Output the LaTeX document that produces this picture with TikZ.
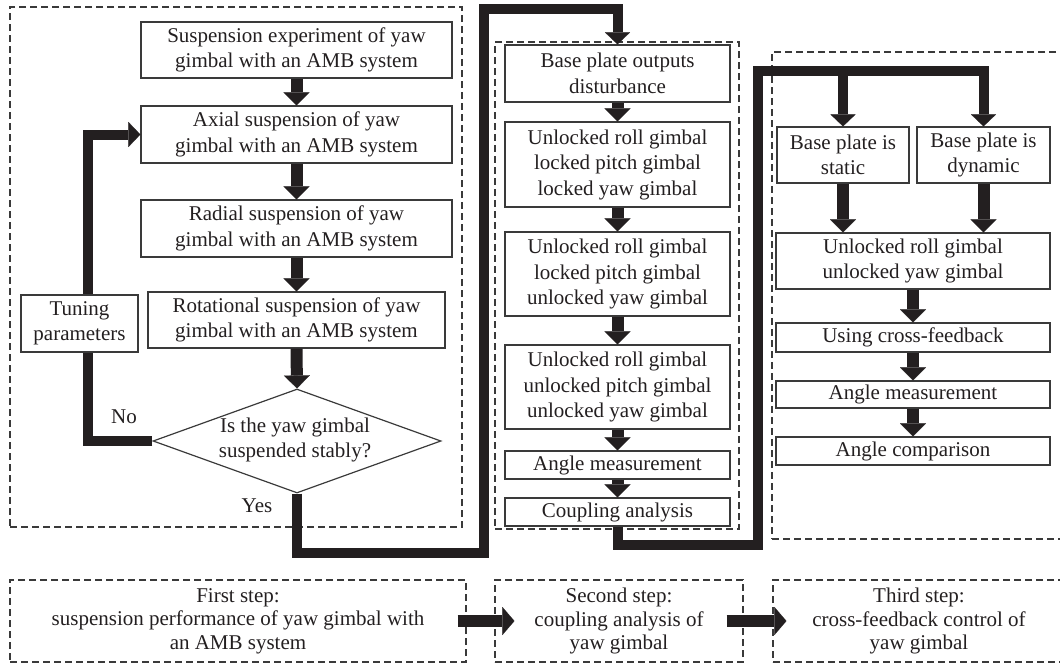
\documentclass[tikz,border=0pt]{standalone}
\usepackage{fontspec}
\setmainfont{Liberation Serif}
\usetikzlibrary{arrows.meta,shapes.geometric}
\definecolor{ink}{HTML}{231F20}
\definecolor{boxc}{HTML}{3A3A3A}
\newcommand\mfs{\fontsize{21}{25.5}\selectfont}
\newcommand\bfs{\fontsize{21}{23.5}\selectfont}
\tikzset{
  box/.style={draw=boxc, line width=1.2pt, inner sep=0pt, align=center, font=\mfs, text=ink},
  panel/.style={draw=boxc, line width=1.2pt, dash pattern=on 7pt off 4pt, inner sep=0pt},
  stepbox/.style={panel, align=center, font=\bfs, text=ink},
  thick line/.style={line width=10pt, draw=ink, line join=miter},
  flow/.style={thick line, -{Triangle[width=25pt,length=12pt,line width=0.1pt]}},
  short/.style={line width=12pt, draw=ink, -{Triangle[width=26pt,length=13pt,line width=0.1pt]}},
  lbl/.style={font=\mfs, text=ink, inner sep=0pt},
}
\begin{document}
\begin{tikzpicture}[x=1pt,y=-1pt]
\useasboundingbox (0,0) rectangle (1060,667);
% panels
\node[panel, minimum width=452pt, minimum height=520pt] (P1) at (236,267) {};
\node[panel, minimum width=244pt, minimum height=487pt] (P2) at (617,285.5) {};
\node[panel, minimum width=300pt, minimum height=487pt] (P3) at (922,295.5) {};
% left column
\node[box, minimum width=311pt, minimum height=56pt] (L1) at (296.5,50) {Suspension experiment of yaw\\gimbal with an AMB system};
\node[box, minimum width=311pt, minimum height=57pt] (L2) at (296.5,134.5) {Axial suspension of yaw\\gimbal with an AMB system};
\node[box, minimum width=311pt, minimum height=57pt] (L3) at (296.5,228.5) {Radial suspension of yaw\\gimbal with an AMB system};
\node[box, minimum width=297pt, minimum height=56pt] (L4) at (296.5,320) {Rotational suspension of yaw\\gimbal with an AMB system};
\node[draw=boxc, line width=1.2pt, diamond, aspect=2.77, minimum width=288pt, minimum height=104pt, inner sep=0pt] (D) at (297,441) {};
\node[lbl, align=center] (Dt) at (295,440) {Is the yaw gimbal\\suspended stably?};
\node[box, minimum width=117pt, minimum height=57pt] (T) at (79.5,323.5) {Tuning\\parameters};
\node[lbl] (no) at (124,417) {No};
\node[lbl] (yes) at (257,506) {Yes};
\draw[short] (L1.south) -- (L2.north);
\draw[short] (L2.south) -- (L3.north);
\draw[short] (L3.south) -- (L4.north);
\draw[short] (L4.south) -- (D.north);
\coordinate (fb) at (88,441);
\draw[thick line] (D.west) -- (fb) -- (fb |- T.south);
\draw[flow] (fb |- T.north) |- (L2.west);
% middle column
\node[box, minimum width=225pt, minimum height=57pt] (M1) at (617.5,73.5) {Base plate outputs\\disturbance};
\node[box, minimum width=225pt, minimum height=85pt] (M2) at (617.5,164.5) {Unlocked roll gimbal\\locked pitch gimbal\\locked yaw gimbal};
\node[box, minimum width=225pt, minimum height=84pt] (M3) at (617.5,274) {Unlocked roll gimbal\\locked pitch gimbal\\unlocked yaw gimbal};
\node[box, minimum width=225pt, minimum height=84pt] (M4) at (617.5,387) {Unlocked roll gimbal\\unlocked pitch gimbal\\unlocked yaw gimbal};
\node[box, minimum width=225pt, minimum height=28pt] (M5) at (617.5,465) {Angle measurement};
\node[box, minimum width=225pt, minimum height=28pt] (M6) at (617.5,512) {Coupling analysis};
\draw[short] (M1.south) -- (M2.north);
\draw[short] (M2.south) -- (M3.north);
\draw[short] (M3.south) -- (M4.north);
\draw[short] (M4.south) -- (M5.north);
\draw[short] (M5.south) -- (M6.north);
\coordinate (y2) at (484,553);
\coordinate (y3) at (484,9);
\draw[flow] (D.south) |- (y2) -- (y3) -| (M1.north);
% right column
\node[box, minimum width=132pt, minimum height=56pt] (R1) at (843,155) {Base plate is\\static};
\node[box, minimum width=133pt, minimum height=56pt] (R2) at (983.5,155) {Base plate is\\dynamic};
\node[box, minimum width=274pt, minimum height=56pt] (R3) at (913,261) {Unlocked roll gimbal\\unlocked yaw gimbal};
\node[box, minimum width=274pt, minimum height=29pt] (R4) at (913,337.5) {Using cross-feedback};
\node[box, minimum width=274pt, minimum height=27pt] (R5) at (913,394.5) {Angle measurement};
\node[box, minimum width=274pt, minimum height=28pt] (R6) at (913,451) {Angle comparison};
\coordinate (c6) at (758,545);
\coordinate (c7) at (758,71);
\draw[flow] (M6.south) |- (c6) -- (c7) -| (R2.north);
\draw[flow] (R1.north |- c7) -- (R1.north);
\draw[short] (R1.south) -- (R1.south |- R3.north);
\draw[short] (R2.south) -- (R2.south |- R3.north);
\draw[short] (R3.south) -- (R4.north);
\draw[short] (R4.south) -- (R5.north);
\draw[short] (R5.south) -- (R6.north);
% bottom steps
\node[stepbox, minimum width=456pt, minimum height=82pt] (B1) at (238,621) {First step:\\suspension performance of yaw gimbal with\\an AMB system};
\node[stepbox, minimum width=248pt, minimum height=82pt] (B2) at (619,621) {Second step:\\coupling analysis of\\yaw gimbal};
\node[stepbox, minimum width=292pt, minimum height=82pt] (B3) at (919,621) {Third step:\\cross-feedback control of\\yaw gimbal};
\draw[short, -{Triangle[width=28pt,length=12pt,line width=0.1pt]}] ([xshift=-9pt]B1.east) -- ([xshift=20pt]B2.west);
\draw[short, -{Triangle[width=28pt,length=12pt,line width=0.1pt]}] ([xshift=-17pt]B2.east) -- ([xshift=14pt]B3.west);
\end{tikzpicture}
\end{document}
